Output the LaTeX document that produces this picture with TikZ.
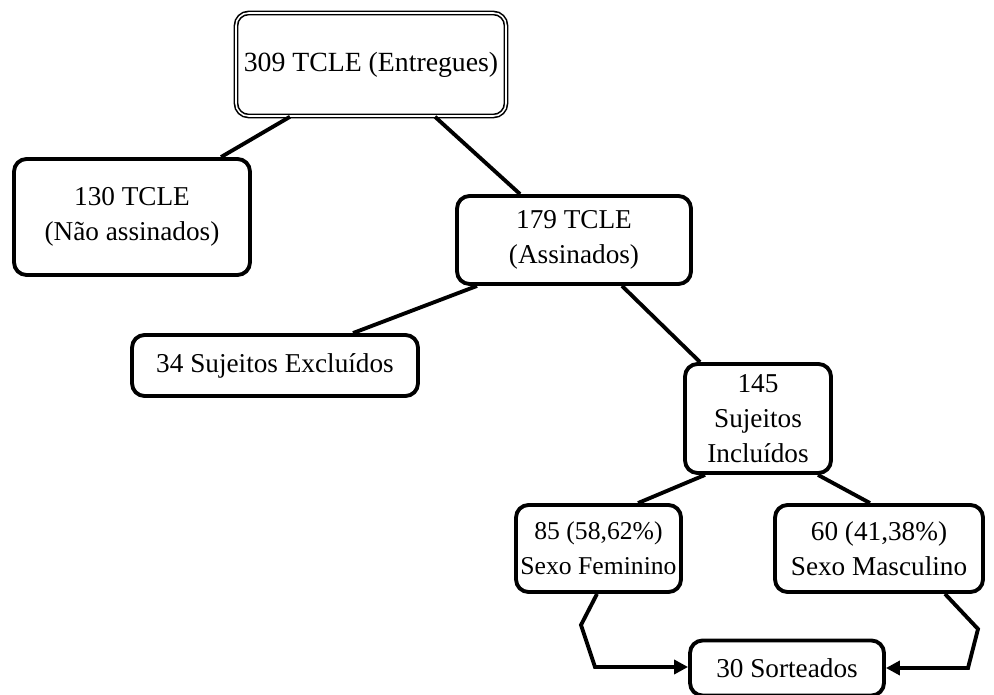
\documentclass[tikz,border=0pt]{standalone}
\usepackage{fontspec}
\setmainfont{Liberation Serif}
\usetikzlibrary{arrows.meta}
\begin{document}
\begin{tikzpicture}[x=0.02cm,y=-0.02cm,
  box/.style={draw=black,line width=2.2pt,rounded corners=0.25cm,align=center,
    font=\fontsize{15.5}{20}\selectfont,inner sep=0pt,fill=white},
  dbox/.style={draw=black,line width=0.9pt,double=white,double distance=0.9pt,
    rounded corners=0.25cm,align=center,font=\fontsize{15.8}{20}\selectfont,inner sep=0pt},
  link/.style={line width=2.2pt},
  arr/.style={line width=2.2pt,-{Triangle[length=8pt,width=8pt]}}]
\useasboundingbox (0,0) rectangle (994,695);
\node[dbox,minimum width=5.4cm,minimum height=2.06cm] (top) at (371,64.5) {309 TCLE (Entregues)};
\node[box,minimum width=4.72cm,minimum height=2.32cm] (n130) at (132,217) {130 TCLE\\(Não assinados)};
\node[box,minimum width=4.68cm,minimum height=1.76cm] (n179) at (574,240) {179 TCLE\\(Assinados)};
\node[box,minimum width=5.72cm,minimum height=1.22cm] (n34) at (275,365.5) {34 Sujeitos Excluídos};
\node[box,minimum width=2.92cm,minimum height=2.18cm] (n145) at (758,418.5) {145\\Sujeitos\\Incluídos};
\node[box,minimum width=3.3cm,minimum height=1.74cm,font=\fontsize{14.6}{20}\selectfont] (n85) at (598.5,548.5) {85 (58,62\%)\\Sexo Feminino};
\node[box,minimum width=4.16cm,minimum height=1.74cm] (n60) at (879,548.5) {60 (41,38\%)\\Sexo Masculino};
\node[box,minimum width=3.88cm,minimum height=1.1cm] (n30) at (787,668) {30 Sorteados};
\draw[link] (top.south -| 290,0) -- (n130.north -| 221,0);
\draw[link] (top.south -| 435,0) -- (n179.north -| 520,0);
\draw[link] (n179.south -| 477,0) -- (n34.north -| 353,0);
\draw[link] (n179.south -| 622,0) -- (n145.north -| 700,0);
\draw[link] (n145.south -| 705,0) -- (n85.north -| 638,0);
\draw[link] (n145.south -| 818,0) -- (n60.north -| 870,0);
\coordinate (l1) at (581,625);
\coordinate (l2) at (595,667);
\coordinate (r1) at (978,629);
\coordinate (r2) at (968,668);
\draw[arr] (n85.south -| 597,0) -- (l1) -- (l2) -- (n30.west |- l2);
\draw[arr] (n60.south -| 945,0) -- (r1) -- (r2) -- (n30.east |- r2);
\end{tikzpicture}
\end{document}
